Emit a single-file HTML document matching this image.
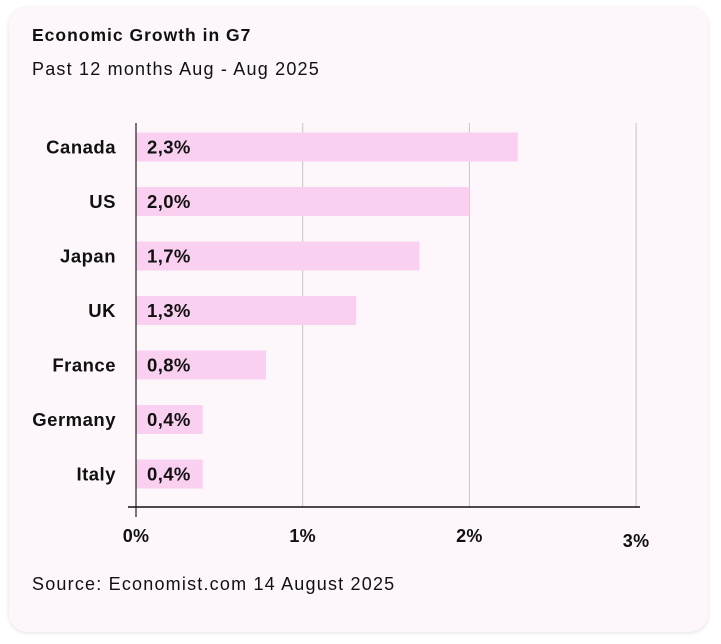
<!DOCTYPE html>
<html><head><meta charset="utf-8"><style>
body{margin:0;background:#fff;width:721px;height:644px;overflow:hidden;font-family:"Liberation Sans",sans-serif}
.card{position:absolute;left:9px;top:7px;width:699px;height:625px;background:#fdf7fb;border-radius:18px;box-shadow:0 1px 4px rgba(0,0,0,.12)}
</style></head><body>
<div class="card"></div>
<svg width="721" height="644" style="position:absolute;left:0;top:0">
<text x="32" y="41" font-size="17.5" font-weight="bold" fill="#111" letter-spacing="1">Economic Growth in G7</text>
<text x="32" y="75" font-size="18" fill="#111" letter-spacing="1.2">Past 12 months Aug - Aug 2025</text>
<g id="grid"></g><g id="bars"></g><g id="axis"></g>
<text x="32" y="590" font-size="18" fill="#111" letter-spacing="1.2">Source: Economist.com 14 August 2025</text>
</svg>
<script>
const categories=["Canada","US","Japan","UK","France","Germany","Italy"];
const values=[2.29,2.0,1.7,1.32,0.78,0.4,0.4];
const valueLabels=["2,3%","2,0%","1,7%","1,3%","0,8%","0,4%","0,4%"];
const ticks=[0,1,2,3];
const tickLabels=["0%","1%","2%","3%"];
const NS="http://www.w3.org/2000/svg";
const x=v=>136+v*166.7;
const y=i=>147+i*54.5;
function mk(tag,attrs,parent,txt){const e=document.createElementNS(NS,tag);for(const k in attrs)e.setAttribute(k,attrs[k]);if(txt)e.textContent=txt;parent.appendChild(e);return e;}
const grid=document.getElementById('grid'),bars=document.getElementById('bars'),axis=document.getElementById('axis');
ticks.forEach((t,i)=>{
 if(t>0){const g=mk('line',{x1:x(t),x2:x(t),y1:123,y2:507,stroke:'#c8c4c6','stroke-width':1},grid);
 
 }
 const lb=mk('text',{x:x(t),y:t===3?547:542,'font-size':18,'font-weight':'bold','text-anchor':'middle',fill:'#111','letter-spacing':0.3},axis,tickLabels[i]);
 
 
});
categories.forEach((c,i)=>{
 const r=mk('rect',{x:x(0),y:y(i)-14.5,width:x(values[i])-x(0),height:29,fill:'#f9d0ef'},bars);
 
 
 const v=mk('text',{x:147,y:y(i)+6.5,'font-size':18.5,'font-weight':'bold',fill:'#111','letter-spacing':0.4},bars,valueLabels[i]);
 
 
 const l=mk('text',{x:116,y:y(i)+6.5,'font-size':18.5,'font-weight':'bold','text-anchor':'end',fill:'#111','letter-spacing':0.5},bars,c);
 
 
});
const ya=mk('line',{x1:136,x2:136,y1:123,y2:517,stroke:'#222','stroke-width':1.2},axis);


const xa=mk('line',{x1:128,x2:640,y1:507,y2:507,stroke:'#111','stroke-width':1.5},axis);


</script>
</body></html>
